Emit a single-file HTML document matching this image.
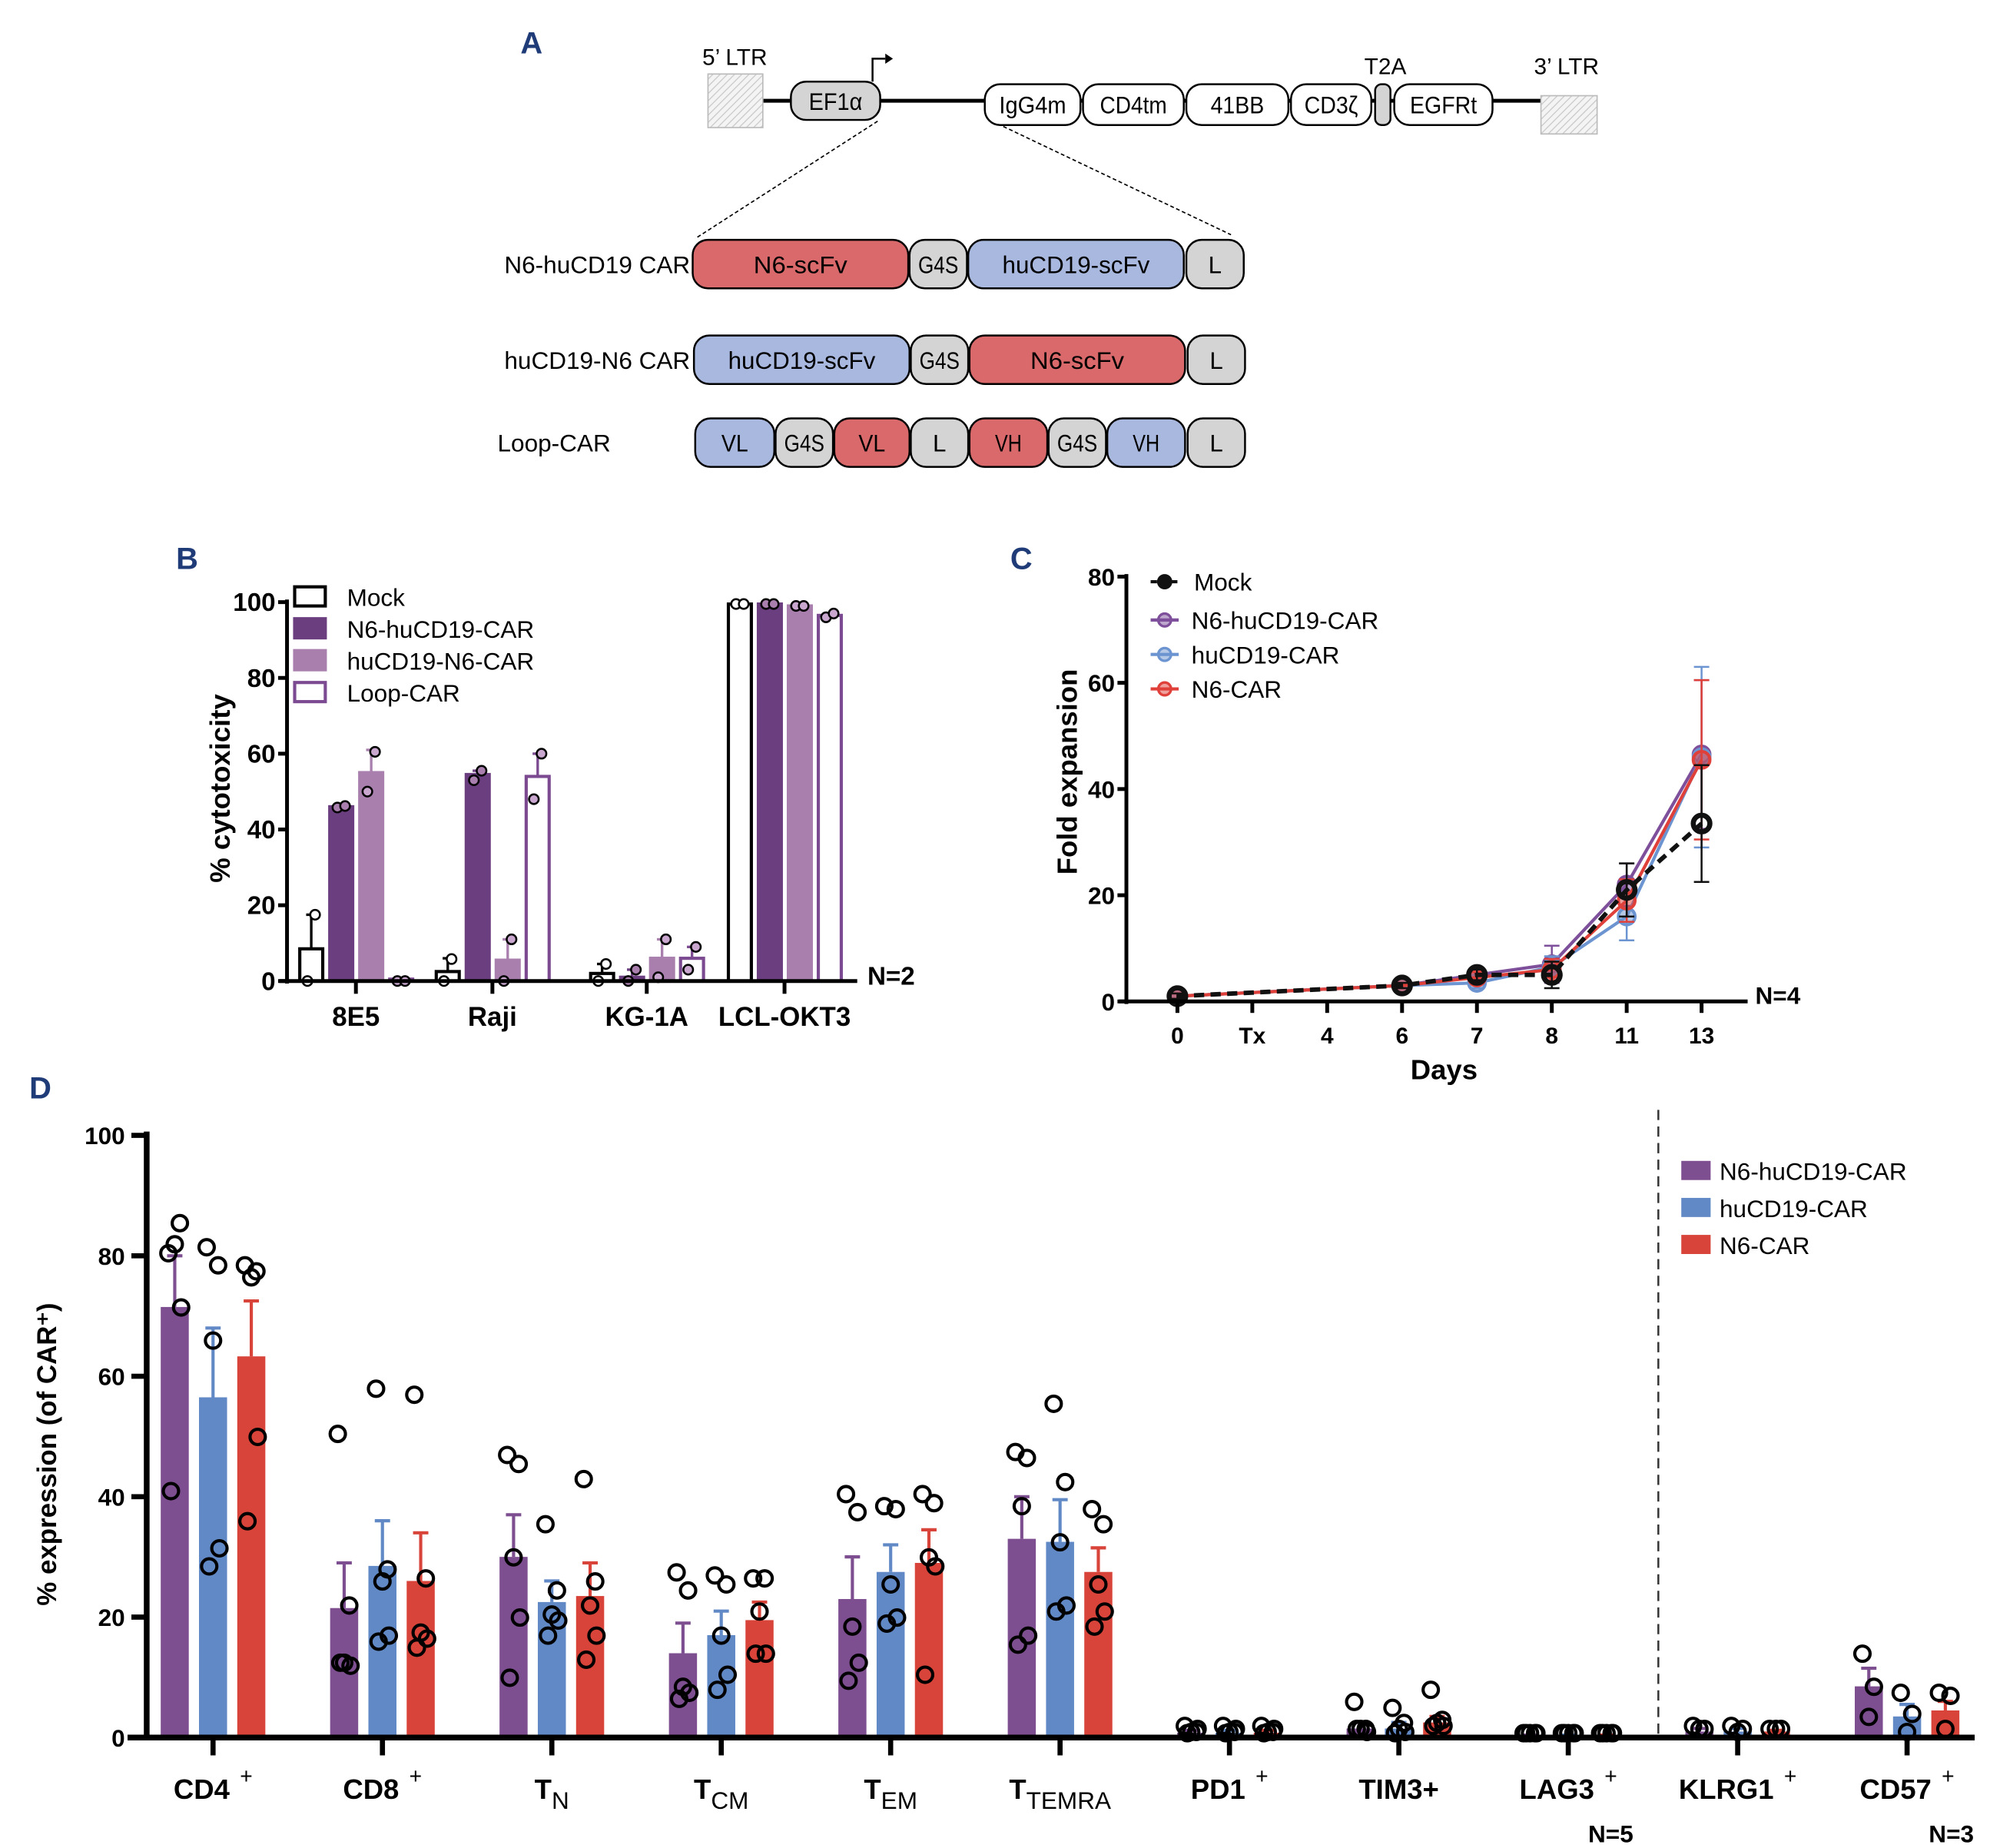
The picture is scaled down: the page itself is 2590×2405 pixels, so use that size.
<!DOCTYPE html>
<html><head><meta charset="utf-8"><style>
html,body{margin:0;padding:0;background:#fff}
svg{display:block}
text{font-family:"Liberation Sans",sans-serif}
</style></head><body>
<svg id="fig" width="2590" height="2405" viewBox="0 0 1560 1448.6" preserveAspectRatio="none" xmlns="http://www.w3.org/2000/svg">
<defs>
<pattern id="hatch" width="4" height="4" patternUnits="userSpaceOnUse" patternTransform="rotate(45)"><rect width="4" height="4" fill="#f4f4f4"/><line x1="0" y1="0" x2="0" y2="4" stroke="#c8c8c8" stroke-width="1.5"/></pattern>
</defs>
<g id="panelA">
<text x="408" y="42" font-size="24" font-weight="bold" fill="#1f3c78">A</text>
<line x1="598" y1="79" x2="1208" y2="79" stroke="#000" stroke-width="3"/>
<rect x="555" y="58" width="43" height="42" fill="url(#hatch)" stroke="#bbb"/>
<text x="576" y="51" font-size="18" text-anchor="middle">5’ LTR</text>
<rect x="1208" y="75" width="44" height="30" fill="url(#hatch)" stroke="#bbb"/>
<text x="1228" y="58" font-size="18" text-anchor="middle">3’ LTR</text>
<text x="1086" y="58" font-size="18" text-anchor="middle">T2A</text>
<path d="M684 64 V46 H694" fill="none" stroke="#000" stroke-width="1.5"/><path d="M694 42 L700 46 L694 50 Z"/>
<line x1="688" y1="95" x2="545" y2="187" stroke="#000" stroke-dasharray="3,2"/>
<line x1="782" y1="97" x2="965" y2="184" stroke="#000" stroke-dasharray="3,2"/>
</g>
<g id="panelB"></g>
<g id="panelC"></g>
<g id="panelD"></g>
</svg>
<script>
const NS="http://www.w3.org/2000/svg";
function mk(parent,tag,attrs,txt){const e=document.createElementNS(NS,tag);for(const k in attrs)e.setAttribute(k,attrs[k]);if(txt!==undefined)e.textContent=txt;parent.appendChild(e);return e;}

// ---------- Panel A pills ----------
const A=document.getElementById('panelA');
const RED="#d9696a",BLUE="#a8b8de",GRAY="#d4d4d4",WHITE="#fff";
const topPills=[["EF1α",620,690,64,94,GRAY],["IgG4m",772,847,66,98,WHITE],["CD4tm",849,928,66,98,WHITE],["41BB",930,1010,66,98,WHITE],["CD3ζ",1012,1075,66,98,WHITE],["",1078,1090,66,98,GRAY],["EGFRt",1093,1170,66,98,WHITE]];
const rows=[
 ["N6-huCD19 CAR",188,[["N6-scFv",543,712,RED],["G4S",713,758,GRAY],["huCD19-scFv",759,928,BLUE],["L",930,975,GRAY]]],
 ["huCD19-N6 CAR",263,[["huCD19-scFv",544,713,BLUE],["G4S",714,759,GRAY],["N6-scFv",760,929,RED],["L",931,976,GRAY]]],
 ["Loop-CAR",328,[["VL",545,607,BLUE],["G4S",608,653,GRAY],["VL",654,713,RED],["L",714,759,GRAY],["VH",760,821,RED],["G4S",822,867,GRAY],["VH",868,929,BLUE],["L",931,976,GRAY]]]];
function pill(p,label,x1,x2,y1,y2,fill){
  const g=mk(A,'g',{});
  
  
  const r=Math.min(12,(x2-x1)/2-1);
  mk(g,'rect',{x:x1,y:y1,width:x2-x1,height:y2-y1,rx:r,ry:r,fill:fill,stroke:'#000','stroke-width':1.5});
  if(label)mk(g,'text',{x:(x1+x2)/2,y:(y1+y2)/2+7,'font-size':19,'text-anchor':'middle',textLength:Math.min((x2-x1)-6,label.length*10.5),lengthAdjust:'spacingAndGlyphs'},label);
}
topPills.forEach(p=>pill(A,p[0],p[1],p[2],p[3],p[4],p[5]));
rows.forEach(r=>{
  const t=mk(A,'text',{x:r[0]==="Loop-CAR"?390:541,y:r[1]+26,'font-size':19,'text-anchor':r[0]==="Loop-CAR"?'start':'end'},r[0]);
   
  r[2].forEach(s=>pill(A,s[0],s[1],s[2],r[1],r[1]+38,s[3]));
});

// ---------- Panel B ----------
const bCats=["8E5","Raji","KG-1A","LCL-OKT3"];
const bSeries=["Mock","N6-huCD19-CAR","huCD19-N6-CAR","Loop-CAR"];
const bMock=[8.5,2.5,2,99.5];
const bN6hu=[46,54.5,1,99.5];
const bhuN6=[55,5.5,6,99];
const bLoop=[0.5,54,6,96.5];
const bErr=[[17.5,6,4.5,99.5],[46.5,55.5,3,99.5],[61,11,11,99],[0.5,60,9,97]];
const bPts=[[[0,17.5],[0,5.8],[0,4.5],[99.5,99.5]],[[45.8,46.2],[53,55.5],[0,3],[99.5,99.5]],[[50,60.5],[0,11],[1,11],[99,99]],[[0,0],[48,60],[3,9],[96,97]]];
const bTicks=[0,20,40,60,80,100];
(function(){
 const G=document.getElementById('panelB');
 const y0=769,y1=472,ax=225;const ys=v=>y0-(v/100)*(y0-y1);
 const gx=[279,386,507,615];const off=[-35,-11.5,12,35.5],bw=18;
 const fills=["#fff","#6b3e80","#a97fae","#fff"],strokes=["#000","#6b3e80","#a97fae","#7b4a90"];
 const ptFill=["#fff","#a97fae","#c9a7cf","#c9a7cf"];
 const vals=[bMock,bN6hu,bhuN6,bLoop];
 mk(G,'text',{x:138,y:446,'font-size':24,'font-weight':'bold',fill:'#1f3c78'},'B');
 vals.forEach((arr,s)=>arr.forEach((v,i)=>{
   const x=gx[i]+off[s];
   mk(G,'line',{x1:x,x2:x,y1:ys(v),y2:ys(Math.max(v,bErr[s][i])),stroke:strokes[s],'stroke-width':2});
   mk(G,'line',{x1:x-4,x2:x+4,y1:ys(bErr[s][i]),y2:ys(bErr[s][i]),stroke:strokes[s],'stroke-width':2});
   const r=mk(G,'rect',{x:x-bw/2,y:ys(v),width:bw,height:y0-ys(v),fill:fills[s],stroke:strokes[s],'stroke-width':2.5});
   
   
   bPts[s][i].forEach((p,k)=>{
     const c=mk(G,'circle',{cx:x+(k?3:-3),cy:ys(p),r:3.8,fill:ptFill[s],stroke:'#000','stroke-width':1.5});
     
     
   });
 }));
 mk(G,'line',{x1:ax,x2:ax,y1:y1-2,y2:y0+2,stroke:'#000','stroke-width':3});
 mk(G,'line',{x1:ax-6,x2:672,y1:y0,y2:y0,stroke:'#000','stroke-width':3});
 bTicks.forEach(t=>{mk(G,'line',{x1:ax-7,x2:ax,y1:ys(t),y2:ys(t),stroke:'#000','stroke-width':3});
   const tx=mk(G,'text',{x:ax-9,y:ys(t)+7,'font-size':20,'font-weight':'bold','text-anchor':'end'},String(t));
   });
 gx.forEach((x,i)=>{mk(G,'line',{x1:x,x2:x,y1:y0,y2:y0+10,stroke:'#000','stroke-width':3});
   const tx=mk(G,'text',{x:x,y:y0+35,'font-size':21,'font-weight':'bold','text-anchor':'middle'},bCats[i]);
   });
 const yl=mk(G,'text',{x:0,y:0,'font-size':22,'font-weight':'bold','text-anchor':'middle',transform:'translate(180,618) rotate(-90)'},'% cytotoxicity');
 
 mk(G,'text',{x:680,y:772,'font-size':20,'font-weight':'bold'},'N=2');
 bSeries.forEach((s,i)=>{const y=460+i*25;
   const r=mk(G,'rect',{x:231,y:y,width:24,height:15,fill:fills[i],stroke:strokes[i],'stroke-width':2.5});
   
   const t=mk(G,'text',{x:272,y:y+15,'font-size':19},s);
   });
})();

// ---------- Panel C ----------
const cDays=["0","Tx","4","6","7","8","11","13"];
const cIdx=[0,3,4,5,6,7];
const cSeries=["Mock","N6-huCD19-CAR","huCD19-CAR","N6-CAR"];
const cMock=[1,3,5,5,21,33.5];
const cN6hu=[1,3,5,7,22,46.5];
const chu=[1,3,3.5,6.5,16,46];
const cN6=[1,3,4.5,6,19,45.5];
const cErr=[[0.5,0.5,1,2.5,5,11],[0.5,0.5,1,3.5,4,14],[0.5,0.5,1,2,4.5,17],[0.5,0.5,1,2,4,15]];
const cTicks=[0,20,40,60,80];
(function(){
 const G=document.getElementById('panelC');
 const y0=785,y1=452,ax=883;const ys=v=>y0-(v/80)*(y0-y1);const xs=i=>923+i*58.7;
 mk(G,'text',{x:792,y:446,'font-size':24,'font-weight':'bold',fill:'#1f3c78'},'C');
 const cols=["#111","#7e4f9a","#6c94d0","#e0403a"];
 const vals=[cMock,cN6hu,chu,cN6];
 [1,2,3,0].forEach(s=>{
   const arr=vals[s];
   arr.forEach((v,k)=>{const x=xs(cIdx[k]),e=cErr[s][k];
     mk(G,'line',{x1:x,x2:x,y1:ys(v-e),y2:ys(v+e),stroke:cols[s],'stroke-width':1.5});
     mk(G,'line',{x1:x-6,x2:x+6,y1:ys(v+e),y2:ys(v+e),stroke:cols[s],'stroke-width':1.5});
     mk(G,'line',{x1:x-6,x2:x+6,y1:ys(v-e),y2:ys(v-e),stroke:cols[s],'stroke-width':1.5});});
   const pts=arr.map((v,k)=>xs(cIdx[k])+','+ys(v)).join(' ');
   const pl=mk(G,'polyline',{points:pts,fill:'none',stroke:cols[s],'stroke-width':s===0?3.5:2.5,'stroke-dasharray':s===0?'8,5':'none'});
   
   
   arr.forEach((v,k)=>{const c=mk(G,'circle',{cx:xs(cIdx[k]),cy:ys(v),r:6.5,fill:s===0?'#fff':cols[s],'fill-opacity':s===0?0:0.5,stroke:cols[s],'stroke-width':s===0?4:2.5});
     
     });
 });
 mk(G,'line',{x1:ax,x2:ax,y1:y1-2,y2:y0+2,stroke:'#000','stroke-width':3});
 mk(G,'line',{x1:ax-6,x2:1370,y1:y0,y2:y0,stroke:'#000','stroke-width':3});
 cTicks.forEach(t=>{mk(G,'line',{x1:ax-7,x2:ax,y1:ys(t),y2:ys(t),stroke:'#000','stroke-width':3});
   const tx=mk(G,'text',{x:ax-9,y:ys(t)+7,'font-size':19,'font-weight':'bold','text-anchor':'end'},String(t));
   });
 cDays.forEach((d,i)=>{const x=xs(i);mk(G,'line',{x1:x,x2:x,y1:y0,y2:y0+9,stroke:'#000','stroke-width':3});
   const tx=mk(G,'text',{x:x,y:y0+33,'font-size':18,'font-weight':'bold','text-anchor':'middle'},d);
   });
 const yl=mk(G,'text',{x:0,y:0,'font-size':22,'font-weight':'bold','text-anchor':'middle',transform:'translate(844,605) rotate(-90)'},'Fold expansion');
 
 const xl=mk(G,'text',{x:1132,y:846,'font-size':22,'font-weight':'bold','text-anchor':'middle'},'Days');
 
 mk(G,'text',{x:1376,y:787,'font-size':19,'font-weight':'bold'},'N=4');
 const ly=[456,486,513,540];
 cSeries.forEach((s,i)=>{const y=ly[i];
   mk(G,'line',{x1:902,x2:924,y1:y,y2:y,stroke:cols[i],'stroke-width':2.5,'stroke-dasharray':i===0?'5,3':'none'});
   mk(G,'circle',{cx:913,cy:y,r:5,fill:cols[i],'fill-opacity':i===0?1:0.5,stroke:cols[i],'stroke-width':2});
   const t=mk(G,'text',{x:i===0?936:934,y:y+7,'font-size':19},s);
   });
})();

// ---------- Panel D ----------
const dCats=["CD4","CD8","T","T","T","T","PD1","TIM3+","LAG3","KLRG1","CD57"];
const dSub=["","","N","CM","EM","TEMRA","","","","",""];
const dSup=["+","+","","","","","+","","+","+","+"];
const dSeries=["N6-huCD19-CAR","huCD19-CAR","N6-CAR"];
const dN6hu=[71.5,21.5,30,14,23,33,0.8,1.5,0.3,1,8.5];
const dhu=[56.5,28.5,22.5,17,27.5,32.5,0.8,1.5,0.3,1,3.5];
const dN6=[63.3,26,23.5,19.5,29,27.5,0.8,2.5,0.3,1,4.5];
const dErrN6hu=[80,29,37,19,30,40,1.2,2.5,0.4,1.5,11.5];
const dErrhu=[68,36,26,21,32,39.5,1.2,2.5,0.4,1.5,5.5];
const dErrN6=[72.5,34,29,22.5,34.5,31.5,1.2,3.5,0.4,1.2,6];
const dPtsN6hu=[[80,85,81.5,71,40.5],[50,21.5,12,11.5,12],[46.5,45,29.5,19.5,9.5],[27,24,8,7,6],[40,37,18,12,9],[47,46,38,16.5,15],[1.5,0.5,0.5,1,0.3],[5.5,1,1,0.5,1],[0.3,0.3,0.3,0.3,0.3],[1.5,1,1],[13.5,8,3]];
const dPtshu=[[81,78,65.5,31,28],[57.5,27.5,25.5,16.5,15.5],[35,24,20,19,16.5],[26.5,25,16.5,10,7.5],[38,37.5,25,19.5,18.5],[55,42,32,21.5,20.5],[1.5,0.5,0.5,1,0.3],[4.5,2,1,0.5,0.3],[0.3,0.3,0.3,0.3,0.3],[1.5,1,0.5],[7,3.5,0.5]];
const dPtsN6=[[78,77,76,49.5,35.5],[56.5,26,17,16,14.5],[42.5,25.5,21.5,16.5,12.5],[26,26,20.5,13.5,13.5],[40,38.5,29.5,28,10],[37.5,35,25,20.5,18],[1.5,0.5,0.5,1,0.3],[7.5,2.5,2,1.5,1.5],[0.3,0.3,0.3,0.3,0.3],[1,1,1],[7,6.5,1]];
const dTicks=[0,20,40,60,80,100];
(function(){
 const G=document.getElementById('panelD');
 const y0=1362,y1=890,ax=115;const ys=v=>y0-(v/100)*(y0-y1);const xs=i=>167+i*132.8;
 mk(G,'text',{x:23,y:861,'font-size':24,'font-weight':'bold',fill:'#1f3c78'},'D');
 const cols=["#7e4f90","#6189c6","#d8443a"];const off=[-30,0,30],bw=22;
 const vals=[dN6hu,dhu,dN6],errs=[dErrN6hu,dErrhu,dErrN6],pts=[dPtsN6hu,dPtshu,dPtsN6];
 const jit=[-5,4,0,5,-3];
 vals.forEach((arr,s)=>arr.forEach((v,i)=>{
   const x=xs(i)+off[s];
   mk(G,'line',{x1:x,x2:x,y1:ys(v),y2:ys(errs[s][i]),stroke:cols[s],'stroke-width':2.5});
   mk(G,'line',{x1:x-6,x2:x+6,y1:ys(errs[s][i]),y2:ys(errs[s][i]),stroke:cols[s],'stroke-width':2.5});
   const r=mk(G,'rect',{x:x-bw/2,y:ys(v),width:bw,height:y0-ys(v),fill:cols[s]});
   
   
   pts[s][i].forEach((p,k)=>{
     const c=mk(G,'circle',{cx:x+jit[k%5],cy:ys(p)-2,r:6,fill:'none',stroke:'#000','stroke-width':2.5});
     
     
   });
 }));
 mk(G,'line',{x1:ax,x2:ax,y1:y1-3,y2:y0+2,stroke:'#000','stroke-width':4.5});
 mk(G,'line',{x1:ax-15,x2:1548,y1:y0,y2:y0,stroke:'#000','stroke-width':4.5});
 dTicks.forEach(t=>{mk(G,'line',{x1:ax-12,x2:ax,y1:ys(t),y2:ys(t),stroke:'#000','stroke-width':4});
   const tx=mk(G,'text',{x:ax-17,y:ys(t)+7,'font-size':19,'font-weight':'bold','text-anchor':'end'},String(t));
   });
 dCats.forEach((c,i)=>{const x=xs(i);
   mk(G,'line',{x1:x,x2:x,y1:y0,y2:y0+14,stroke:'#000','stroke-width':4});
   const tx=mk(G,'text',{x:x,y:1410,'font-size':22,'font-weight':'bold','text-anchor':'middle'});
   
   const a=document.createElementNS(NS,'tspan');a.textContent=c;tx.appendChild(a);
   if(dSub[i]){const b=document.createElementNS(NS,'tspan');b.setAttribute('dy','8');b.setAttribute('font-size','19');b.setAttribute('font-weight','normal');b.textContent=dSub[i];tx.appendChild(b);}
   if(dSup[i]){const b=document.createElementNS(NS,'tspan');b.setAttribute('dx','8');b.setAttribute('dy','-12');b.setAttribute('font-size','17');b.setAttribute('font-weight','normal');b.textContent=dSup[i];tx.appendChild(b);}
 });
 mk(G,'line',{x1:1300,x2:1300,y1:870,y2:1362,stroke:'#333','stroke-width':1.5,'stroke-dasharray':'8,5'});
 const yl=mk(G,'text',{x:0,y:0,'font-size':21,'font-weight':'bold','text-anchor':'middle',transform:'translate(44,1140) rotate(-90)'},'% expression (of CAR⁺)');
 
 mk(G,'text',{x:1245,y:1444,'font-size':19,'font-weight':'bold'},'N=5');
 mk(G,'text',{x:1512,y:1444,'font-size':19,'font-weight':'bold'},'N=3');
 dSeries.forEach((s,i)=>{const y=910+i*29;
   const r=mk(G,'rect',{x:1318,y:y,width:23,height:15,fill:cols[i]});
   
   const t=mk(G,'text',{x:1348,y:y+15,'font-size':19},s);
   });
})();
</script>
</body></html>
